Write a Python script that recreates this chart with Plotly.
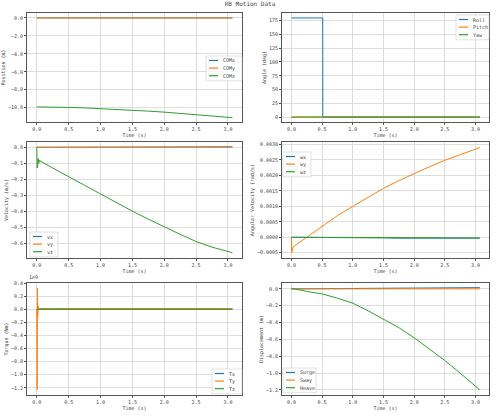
import plotly.graph_objects as go

# time samples (s)
t = [0.0, 0.005, 0.01, 0.015, 0.02, 0.03, 0.04, 0.05, 0.25, 0.5, 0.75, 1.0, 1.25, 1.5, 1.75, 2.0, 2.25, 2.5, 2.75, 3.07]

com_x = [0.0] * 20
com_y = [0.0] * 20
com_z = [-9.92, -9.92, -9.92, -9.92, -9.92, -9.92, -9.92, -9.92, -9.94, -9.97, -10.03, -10.1, -10.18, -10.28, -10.39, -10.5, -10.63, -10.77, -10.92, -11.12]

roll = [180, 180, 180, 180, 180, 180, 180, 180, 180, 180, 0, 0, 0, 0, 0, 0, 0, 0, 0, 0]
roll_t = [0.0, 0.005, 0.01, 0.015, 0.02, 0.03, 0.04, 0.05, 0.25, 0.51, 0.511, 1.0, 1.25, 1.5, 1.75, 2.0, 2.25, 2.5, 2.75, 3.07]
pitch = [0.0] * 20
yaw = [0.0] * 20

vx = [0.0, 0.0, 0.001, 0.001, 0.001, 0.001, 0.001, 0.001, 0.002, 0.002, 0.003, 0.003, 0.003, 0.003, 0.003, 0.003, 0.003, 0.003, 0.003, 0.003]
vy = [0.0] * 20
vz = [0.0, -0.13, -0.06, -0.11, -0.07, -0.1, -0.08, -0.085, -0.13, -0.185, -0.24, -0.29, -0.345, -0.4, -0.45, -0.5, -0.545, -0.59, -0.625, -0.66]

wx = [0.0, 0.0, 0.0, 0.0, 0.0, 0.0, 0.0, 0.0, -0.00001, -0.00001, -0.00002, -0.00002, -0.00002, -0.00002, -0.00003, -0.00003, -0.00003, -0.00003, -0.00003, -0.00003]
wy = [0.0, -0.0005, -0.00035, -0.0004, -0.00033, -0.00032, -0.0003, -0.00028, 0.0, 0.00035, 0.0007, 0.001, 0.0013, 0.00158, 0.00183, 0.00206, 0.00228, 0.00249, 0.00268, 0.0029]
wz = [0.0, 0.0, 0.0, 0.0, 0.0, 0.0, 0.0, 0.0, -0.00001, -0.00001, -0.00001, -0.00002, -0.00002, -0.00002, -0.00002, -0.00002, -0.00002, -0.00002, -0.00002, -0.00002]

# torque in units of 1e9 Nm
tx = [0.0] * 20
ty = [0.0, -1.23, 0.32, -0.1, 0.05, 0.01, 0.02, 0.01, 0.01, 0.01, 0.01, 0.01, 0.01, 0.01, 0.01, 0.01, 0.01, 0.01, 0.01, 0.01]
tz = [0.0] * 20

surge = [0.0, 0.0, 0.0, 0.0, 0.0, 0.0, 0.0, 0.0, 0.001, 0.002, 0.003, 0.005, 0.006, 0.007, 0.009, 0.01, 0.011, 0.012, 0.014, 0.015]
sway = [0.0] * 20
heave = [0.0, 0.0, 0.0, 0.0, 0.0, 0.0, 0.0, 0.0, -0.03, -0.06, -0.11, -0.17, -0.26, -0.36, -0.46, -0.58, -0.71, -0.85, -1.0, -1.2]

C = ['#1f77b4', '#ff7f0e', '#2ca02c']
FONT = 'DejaVu Sans Mono'
W, H = 500, 416


def px(x):
    return x / W


def py(y):
    return 1 - y / H


panels = [
    # names, xs, ys, y title, x px span, y px span (top, bottom), y tick step, y range, legend box (left, top, width)
    (['COMx', 'COMy', 'COMz'], [t, t, t], [com_x, com_y, com_z], 'Position (m)', (27, 242), (13, 122), 2, [-11.6, 0.55], (206, 56, 36)),
    (['Roll', 'Pitch', 'Yaw'], [roll_t, t, t], [roll, pitch, yaw], 'Angle (deg)', (282, 489), (13, 122), 25, [-9, 189], (456, 15, 33)),
    (['vx', 'vy', 'vz'], [t, t, t], [vx, vy, vz], 'Velocity (m/s)', (27, 242), (142, 258), 0.1, [-0.693, 0.033], (30, 232, 28)),
    (['wx', 'wy', 'wz'], [t, t, t], [wx, wy, wz], 'Angular Velocity (rad/s)', (282, 489), (142, 258), 0.0005, [-0.00067, 0.00308], (283, 152, 28)),
    (['Tx', 'Ty', 'Tz'], [t, t, t], [tx, ty, tz], 'Torque (Nm)', (27, 242), (283, 395), 0.2, [-1.31, 0.4], (212, 369, 30)),
    (['Surge', 'Sway', 'Heave'], [t, t, t], [surge, sway, heave], 'Displacement (m)', (282, 489), (283, 395), 0.2, [-1.26, 0.07], (283, 368, 33)),
]

fig = go.Figure()
layout = dict(
    width=W, height=H, margin=dict(l=0, r=0, t=0, b=0),
    paper_bgcolor='white', plot_bgcolor='white',
    font=dict(family=FONT, size=5, color='#444'),
    showlegend=False,
    title=dict(text='RB Motion Data', x=px(250), y=py(2), xanchor='center', yanchor='top', font=dict(size=6, family=FONT)),
)
shapes = []
annotations = [dict(text='1e9', x=px(27), y=py(282), xref='paper', yref='paper',
                    xanchor='left', yanchor='bottom', showarrow=False, font=dict(size=5, family=FONT))]

for i, (names, xs, ys, ytitle, xs_px, ys_px, dtick, yr, lb) in enumerate(panels):
    n = '' if i == 0 else str(i + 1)
    for j in range(3):
        fig.add_trace(go.Scatter(x=xs[j], y=ys[j], name=names[j], mode='lines',
                                 line=dict(color=C[j], width=1), xaxis='x' + n, yaxis='y' + n))
    common = dict(showgrid=True, gridcolor='#dddddd', gridwidth=1, showline=True, mirror=True,
                  linecolor='#555', linewidth=0.8, ticks='outside', ticklen=2, tickcolor='#555',
                  zeroline=False, automargin=False, tickfont=dict(size=5))
    layout['xaxis' + n] = dict(domain=[px(xs_px[0]), px(xs_px[1])], anchor='y' + n, range=[-0.154, 3.22],
                               dtick=0.5, tickformat='.1f',
                               title=dict(text='Time (s)', standoff=1, font=dict(size=5)), **common)
    fmt = '.4f' if i == 3 else ('d' if i == 1 else '.1f')
    layout['yaxis' + n] = dict(domain=[py(ys_px[1]), py(ys_px[0])], anchor='x' + n, range=yr, dtick=dtick,
                               tickformat=fmt, title=dict(text=ytitle, standoff=2, font=dict(size=5)), **common)

    # compact matplotlib-style legend box
    lx, ly, lw = lb
    row = 7.6
    shapes.append(dict(type='rect', xref='paper', yref='paper', x0=px(lx), x1=px(lx + lw),
                       y0=py(ly + 3 * row + 2), y1=py(ly),
                       line=dict(color='#cccccc', width=0.6), fillcolor='rgba(255,255,255,0.85)', layer='above'))
    for j in range(3):
        yy = py(ly + 4.5 + j * row)
        shapes.append(dict(type='line', xref='paper', yref='paper', x0=px(lx + 3), x1=px(lx + 12),
                           y0=yy, y1=yy, line=dict(color=C[j], width=1.2), layer='above'))
        annotations.append(dict(text=names[j], x=px(lx + 15), y=yy, xref='paper', yref='paper',
                                xanchor='left', yanchor='middle', showarrow=False,
                                font=dict(size=5, family=FONT, color='#444')))

layout['shapes'] = shapes
layout['annotations'] = annotations
fig.update_layout(**layout)
fig.write_html("out.html", config={'displayModeBar': False},
               post_script="document.body.style.margin='0';")
